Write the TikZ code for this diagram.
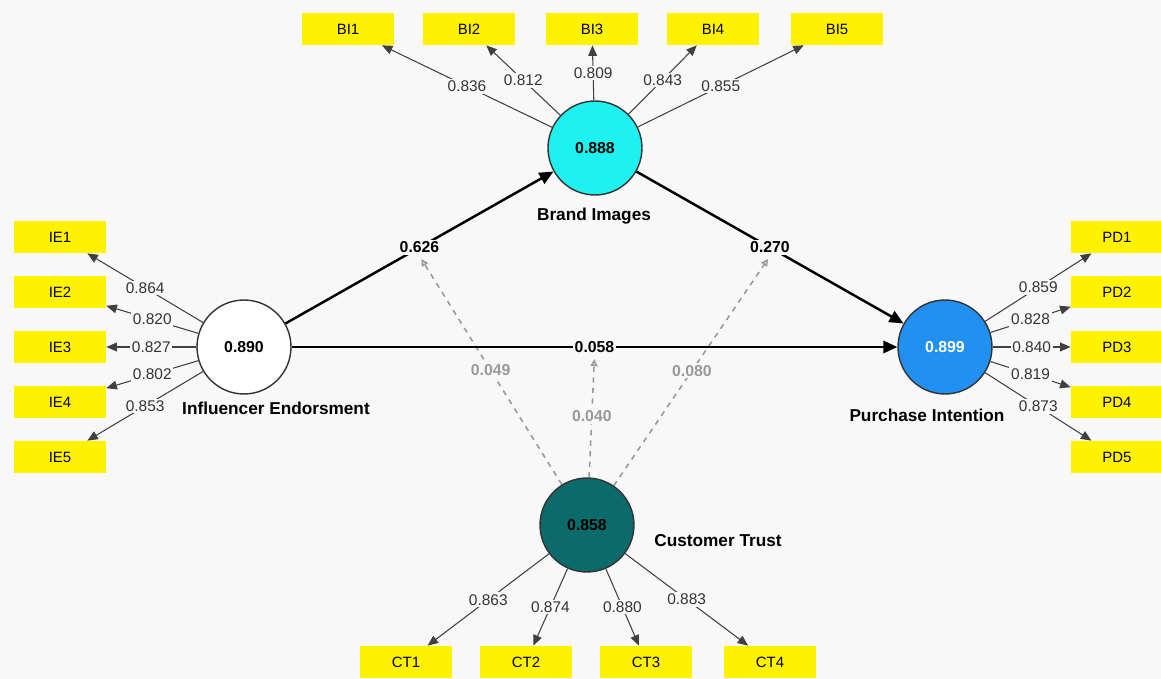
\documentclass[tikz,border=0pt]{standalone}
\usepackage{fontspec}
\setmainfont{Liberation Sans}
\usetikzlibrary{arrows.meta}
\definecolor{bgc}{HTML}{F8F8F8}
\definecolor{bic}{HTML}{1FF0F0}
\definecolor{pic}{HTML}{2290F0}
\definecolor{ctc}{HTML}{0B6B6B}
\pgfdeclarelayer{back}
\pgfdeclarelayer{mid}
\pgfsetlayers{back,mid,main}
\begin{document}
\begin{tikzpicture}[x=0.02cm,y=-0.02cm,
 ind/.style={fill=yellow, minimum width=1.84cm, minimum height=0.64cm, inner sep=0pt, font=\fontsize{8.5}{10}\selectfont},
 lv/.style={circle, draw=black!80, line width=0.8pt, minimum size=1.88cm, inner sep=0pt, font=\bfseries\fontsize{9}{10}\selectfont},
 load/.style={draw=black!75, line width=0.6pt, -{Triangle[length=6pt,width=5pt]}},
 lval/.style={fill=bgc, inner sep=1pt, text=black!80, font=\fontsize{8.8}{10}\selectfont},
 pth/.style={draw=black, line width=1.4pt, -{Triangle[length=8pt,width=7pt]}},
 pval/.style={fill=bgc, inner sep=1pt, font=\bfseries\fontsize{9}{10}\selectfont},
 modl/.style={draw=black!40, dashed, line width=0.9pt, shorten >=2pt, -{Triangle[open,length=4pt,width=4pt]}},
 mval/.style={fill=bgc, inner sep=1pt, text=black!40, font=\bfseries\fontsize{9}{10}\selectfont},
 cname/.style={font=\bfseries\fontsize{9.8}{11}\selectfont}]
\begin{pgfonlayer}{back}
\fill[bgc] (0,0) rectangle (1161,679);
\end{pgfonlayer}
\useasboundingbox (0,0) rectangle (1161,679);

% latent variables
\node[lv, fill=white] (ie) at (244,347) {0.890};
\node[lv, fill=bic] (bi) at (595,148) {0.888};
\node[lv, fill=pic, text=white] (pi) at (945,347) {0.899};
\node[lv, fill=ctc] (ct) at (587,525) {0.858};

\node[cname] (ien) at (276,408) {Influencer Endorsment};
\node[cname] (bin) at (594,216) {Brand Images};
\node[cname] (pin) at (927,415) {Purchase Intention};
\node[cname] (ctn) at (718,541) {Customer Trust};

% indicators
\node[ind] (bi1) at (348,29) {BI1};
\node[ind] (bi2) at (469,29) {BI2};
\node[ind] (bi3) at (592,29) {BI3};
\node[ind] (bi4) at (713,29) {BI4};
\node[ind] (bi5) at (837,29) {BI5};

\node[ind] (ie1) at (60,237) {IE1};
\node[ind] (ie2) at (60,292) {IE2};
\node[ind] (ie3) at (60,347) {IE3};
\node[ind] (ie4) at (60,402) {IE4};
\node[ind] (ie5) at (60,457) {IE5};

\node[ind] (pd1) at (1117,237) {PD1};
\node[ind] (pd2) at (1117,292) {PD2};
\node[ind] (pd3) at (1117,347) {PD3};
\node[ind] (pd4) at (1117,402) {PD4};
\node[ind] (pd5) at (1117,457) {PD5};

\node[ind] (ct1) at (406,662) {CT1};
\node[ind] (ct2) at (526,662) {CT2};
\node[ind] (ct3) at (646,662) {CT3};
\node[ind] (ct4) at (770,662) {CT4};

% loadings
\draw[load] (bi) -- node[midway,lval]{0.836} (bi1);
\draw[load] (bi) -- node[midway,lval]{0.812} (bi2);
\draw[load] (bi) -- node[midway,lval]{0.809} (bi3);
\draw[load] (bi) -- node[midway,lval]{0.843} (bi4);
\draw[load] (bi) -- node[midway,lval]{0.855} (bi5);

\draw[load] (ie) -- node[midway,lval]{0.864} (ie1);
\draw[load] (ie) -- node[midway,lval]{0.820} (ie2);
\draw[load] (ie) -- node[midway,lval]{0.827} (ie3);
\draw[load] (ie) -- node[midway,lval]{0.802} (ie4);
\draw[load] (ie) -- node[midway,lval]{0.853} (ie5);

\draw[load] (pi) -- node[midway,lval]{0.859} (pd1);
\draw[load] (pi) -- node[midway,lval]{0.828} (pd2);
\draw[load] (pi) -- node[midway,lval]{0.840} (pd3);
\draw[load] (pi) -- node[midway,lval]{0.819} (pd4);
\draw[load] (pi) -- node[midway,lval]{0.873} (pd5);

\draw[load] (ct) -- node[midway,lval]{0.863} (ct1);
\draw[load] (ct) -- node[midway,lval]{0.874} (ct2);
\draw[load] (ct) -- node[midway,lval]{0.880} (ct3);
\draw[load] (ct) -- node[midway,lval]{0.883} (ct4);

% structural paths
\draw[pth] (ie) -- node[midway,pval] (c626) {0.626} (bi);
\draw[pth] (bi) -- node[midway,pval] (c270) {0.270} (pi);
\draw[pth] (ie) -- node[midway,pval] (c058) {0.058} (pi);

% moderating effects
\begin{pgfonlayer}{mid}
\draw[modl] (ct) -- node[midway,mval]{0.049} (c626.south);
\draw[modl] (ct) -- node[midway,mval]{0.040} (c058.south);
\draw[modl] (ct) -- node[midway,mval]{0.080} (c270.south);
\end{pgfonlayer}
\end{tikzpicture}
\end{document}
